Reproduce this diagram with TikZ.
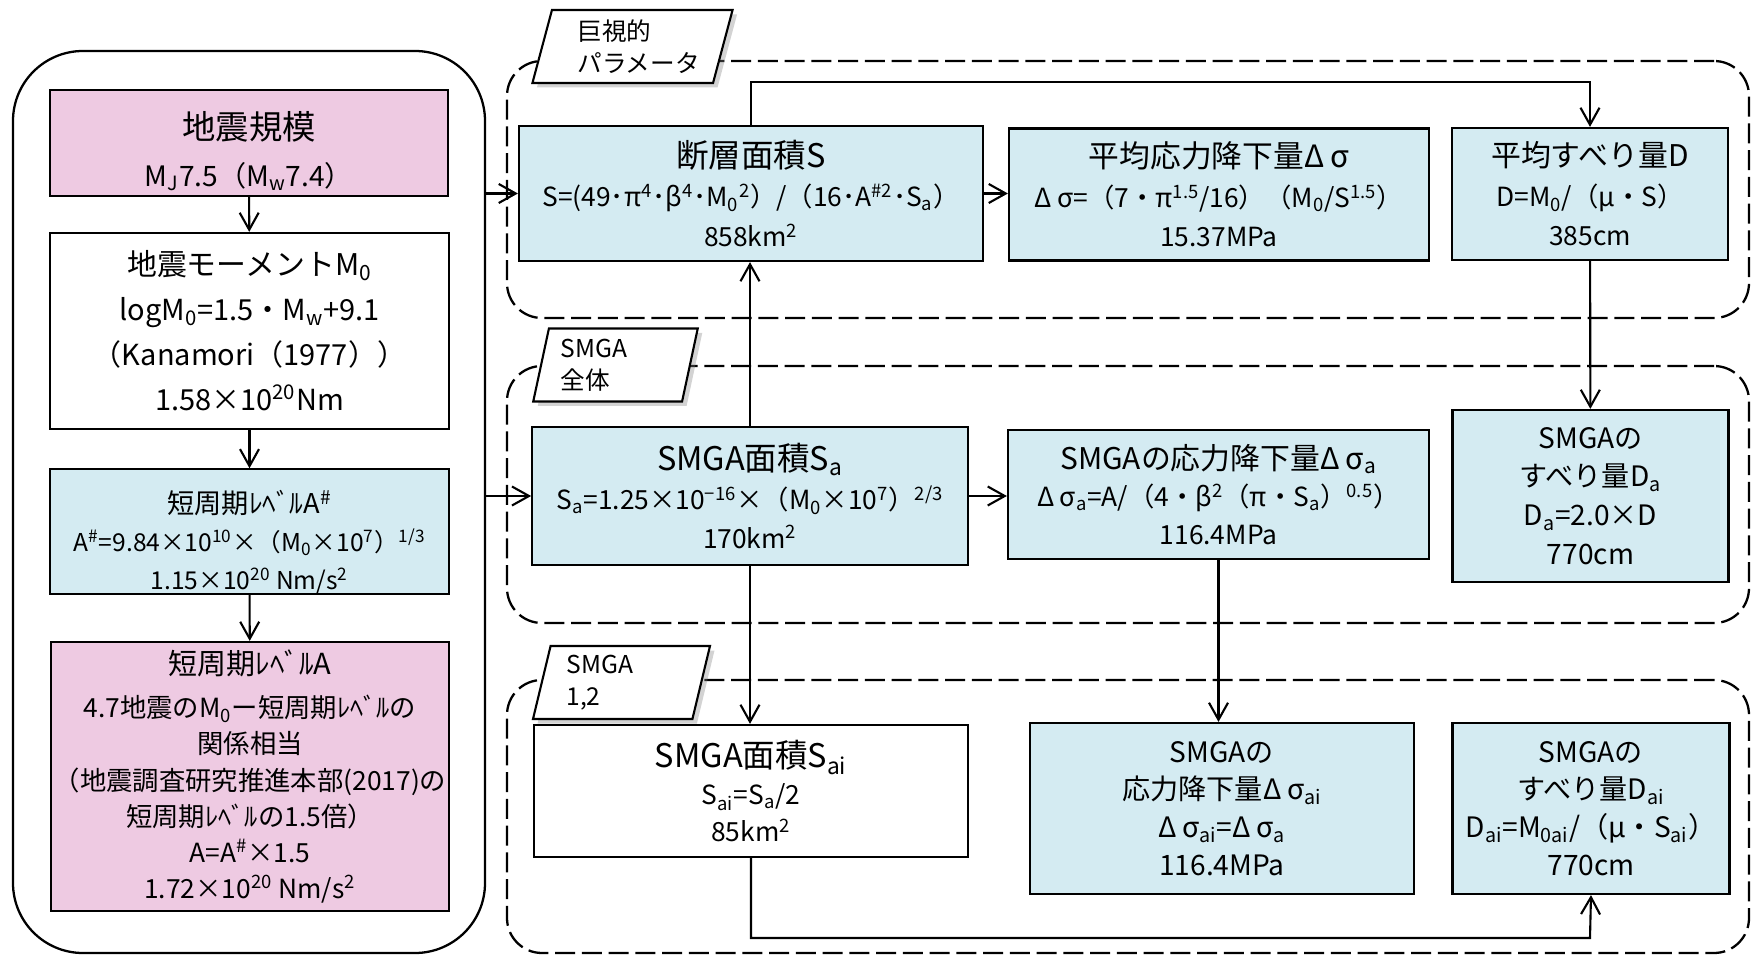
\documentclass[tikz,border=0pt]{standalone}
\usepackage{fontspec}
\setmainfont{Noto Sans CJK JP}
\usepackage{xcolor}
\usepackage{tikz}
\usetikzlibrary{arrows.meta,shapes.geometric,shadows}
\definecolor{pinkfill}{RGB}{238,202,226}
\definecolor{bluefill}{RGB}{212,235,242}
\newcommand\upr[1]{\textsuperscript{#1}}
\newcommand\dnr[1]{\textsubscript{#1}}
\newcommand\ttl[2][18]{{\fontsize{#1}{20}\selectfont#2}}
\newcommand\dsg{Δ\kern.2emσ}
\newcommand\lift[1]{\rule{0pt}{#1}}

\begin{document}
\begin{tikzpicture}[
    x=0.2mm,y=-0.2mm,>={Straight Barb[length=3.4mm,width=3.8mm]},
    box/.style={draw,line width=1.25pt,align=center,inner sep=0pt},
    given/.style={box,fill=pinkfill},
    derived/.style={box,fill=bluefill},
    plain/.style={box,fill=white},
    frame/.style={draw,line width=1.3pt,rounded corners=14mm},
    group/.style={draw,line width=1.3pt,dash pattern=on 4mm off 1.35mm,
      rounded corners=7mm},
    tag/.style={trapezium,trapezium left angle=76,trapezium right angle=104,
      trapezium stretches=true,draw,fill=white,line width=1.2pt,
      minimum height=14.6mm,text width=22mm,align=left,inner sep=0pt,
      drop shadow={shadow xshift=0.9mm,shadow yshift=-0.9mm,opacity=.35},
      font=\fontsize{14}{18}\selectfont},
    flow/.style={->,line width=1.2pt}
]
\useasboundingbox (0,0) rectangle (1751,957);

\node[frame,minimum width=94.4mm,minimum height=180.4mm] (frame) at (249,502) {};

\node[group,minimum width=248.4mm,minimum height=51.4mm] (grpM) at (1128,189.5) {};
\node[group,minimum width=248.4mm,minimum height=51.4mm] (grpS) at (1128,494.5) {};
\node[group,minimum width=248.4mm,minimum height=54.6mm] (grpI) at (1128,816.5) {};

\node[tag,minimum width=40.2mm] (tagM) at (632.5,46.5) {巨視的\\パラメータ};
\node[tag,minimum width=33mm]   (tagS) at (615.5,365)  {SMGA\\全体};
\node[tag,minimum width=35.4mm] (tagI) at (621.5,682.5) {SMGA\\1,2};

\node[given,minimum width=79.6mm,minimum height=21.2mm,
  font=\fontsize{16}{26.7}\selectfont] (mag) at (249,143)
  {\lift{25pt}\ttl[19]{地震規模}\\M\dnr{J}7.5（M\dnr{w}7.4）};
\node[plain,minimum width=79.8mm,minimum height=39.2mm,
  font=\fontsize{16.5}{25.6}\selectfont] (mom) at (249.5,331)
  {\ttl[17]{地震モーメントM\dnr{0}}\\logM\dnr{0}=1.5・M\dnr{w}+9.1\\
   （Kanamori（1977））\\1.58×10\upr{20}Nm};
\node[derived,minimum width=79.8mm,minimum height=23.8mm,
  font=\fontsize{14}{21.6}\selectfont] (ash) at (249.5,531.5)
  {\lift{25pt}\ttl[15.5]{短周期ﾚﾍﾞﾙA\upr{\#}}\\
   A\upr{\#}=9.84×10\upr{10}×（M\dnr{0}×10\upr{7}）\upr{1/3}\\
   1.15×10\upr{20} Nm/s\upr{2}};
\node[given,minimum width=79.6mm,minimum height=53.8mm,
  font=\fontsize{15}{20.5}\selectfont] (alev) at (250,776.5)
  {\ttl[16.5]{短周期ﾚﾍﾞﾙA}\\[4pt]4.7地震のM\dnr{0}ー短周期ﾚﾍﾞﾙの\\関係相当\\
   （地震調査研究推進本部(2017)の\\短周期ﾚﾍﾞﾙの1.5倍）\\
   A=A\upr{\#}×1.5\\1.72×10\upr{20} Nm/s\upr{2}};

\node[derived,minimum width=92.8mm,minimum height=27mm,
  font=\fontsize{15}{22.7}\selectfont] (S) at (751,193.5)
  {\ttl[18.5]{断層面積S}\\
   S=(49･π\upr{4}･β\upr{4}･M\dnr{0}\upr{2}）/（16･A\upr{\#2}･S\dnr{a}）\\
   858km\upr{2}};
\node[derived,minimum width=84mm,minimum height=26.4mm,
  font=\fontsize{15}{22.5}\selectfont] (dsig) at (1219,194.5)
  {\ttl[17.5]{平均応力降下量\dsg}\\
   \dsg=（7・π\upr{1.5}/16）（M\dnr{0}/S\upr{1.5}）\\15.37MPa};
\node[derived,minimum width=55.2mm,minimum height=26.4mm,
  font=\fontsize{15}{22.5}\selectfont] (D) at (1590,194)
  {\ttl[17]{平均すべり量D}\\D=M\dnr{0}/（μ・S）\\385cm};

\node[derived,minimum width=87.1mm,minimum height=27.6mm,
  font=\fontsize{15}{22}\selectfont] (Sa) at (750,496)
  {\ttl[18.5]{SMGA面積S\dnr{a}}\\
   S\dnr{a}=1.25×10\upr{−16}×（M\dnr{0}×10\upr{7}）\upr{2/3}\\170km\upr{2}};
\node[derived,minimum width=84.2mm,minimum height=25.8mm,
  font=\fontsize{15}{21.5}\selectfont] (dsiga) at (1218.5,494.5)
  {\ttl[17]{SMGAの応力降下量\dsg\dnr{a}}\\
   \dsg\dnr{a}=A/（4・β\upr{2}（π・S\dnr{a}）\upr{0.5}）\\116.4MPa};
\node[derived,minimum width=55.2mm,minimum height=34.4mm,
  font=\fontsize{16}{22}\selectfont] (Da) at (1590.5,496)
  {SMGAの\\すべり量D\dnr{a}\\D\dnr{a}=2.0×D\\770cm};

\node[plain,minimum width=86.8mm,minimum height=26.4mm,
  font=\fontsize{15}{21}\selectfont] (Sai) at (751,791)
  {\ttl[18.5]{SMGA面積S\dnr{ai}}\\S\dnr{ai}=S\dnr{a}/2\\85km\upr{2}};
\node[derived,minimum width=76.8mm,minimum height=34.2mm,
  font=\fontsize{16}{21.5}\selectfont] (dsigai) at (1222,808.5)
  {SMGAの\\応力降下量\dsg\dnr{ai}\\\dsg\dnr{ai}=\dsg\dnr{a}\\116.4MPa};
\node[derived,minimum width=55.4mm,minimum height=34.2mm,
  font=\fontsize{16}{21.5}\selectfont] (Dai) at (1591,808.5)
  {SMGAの\\すべり量D\dnr{ai}\\D\dnr{ai}=M\dnr{0ai}/（μ・S\dnr{ai}）\\770cm};

\coordinate (ktop) at (1590,82);
\coordinate (kbot) at (1590,938);

\draw[flow] (mag) -- (mom);
\draw[flow] (mom) -- (ash);
\draw[flow] (ash) -- (alev);
\draw[flow] (S.west -| frame.east) -- (S.west);
\draw[flow] (Sa.west -| frame.east) -- (Sa.west);
\draw[flow] (S.east) -- (S.east -| dsig.west);
\draw[flow] (S.north) |- (ktop) -- (D.north);
\draw[flow] (Sa.north) -- (Sa.north |- S.south);
\draw[flow] (D) -- (Da);
\draw[flow] (Sa.east) -- (Sa.east -| dsiga.west);
\draw[flow] (Sa.south) -- (Sa.south |- Sai.north);
\draw[flow] (dsiga.south) -- (dsiga.south |- dsigai.north);
\draw[flow] (Sai.south) |- (kbot) -- (Dai.south);
\end{tikzpicture}
\end{document}
